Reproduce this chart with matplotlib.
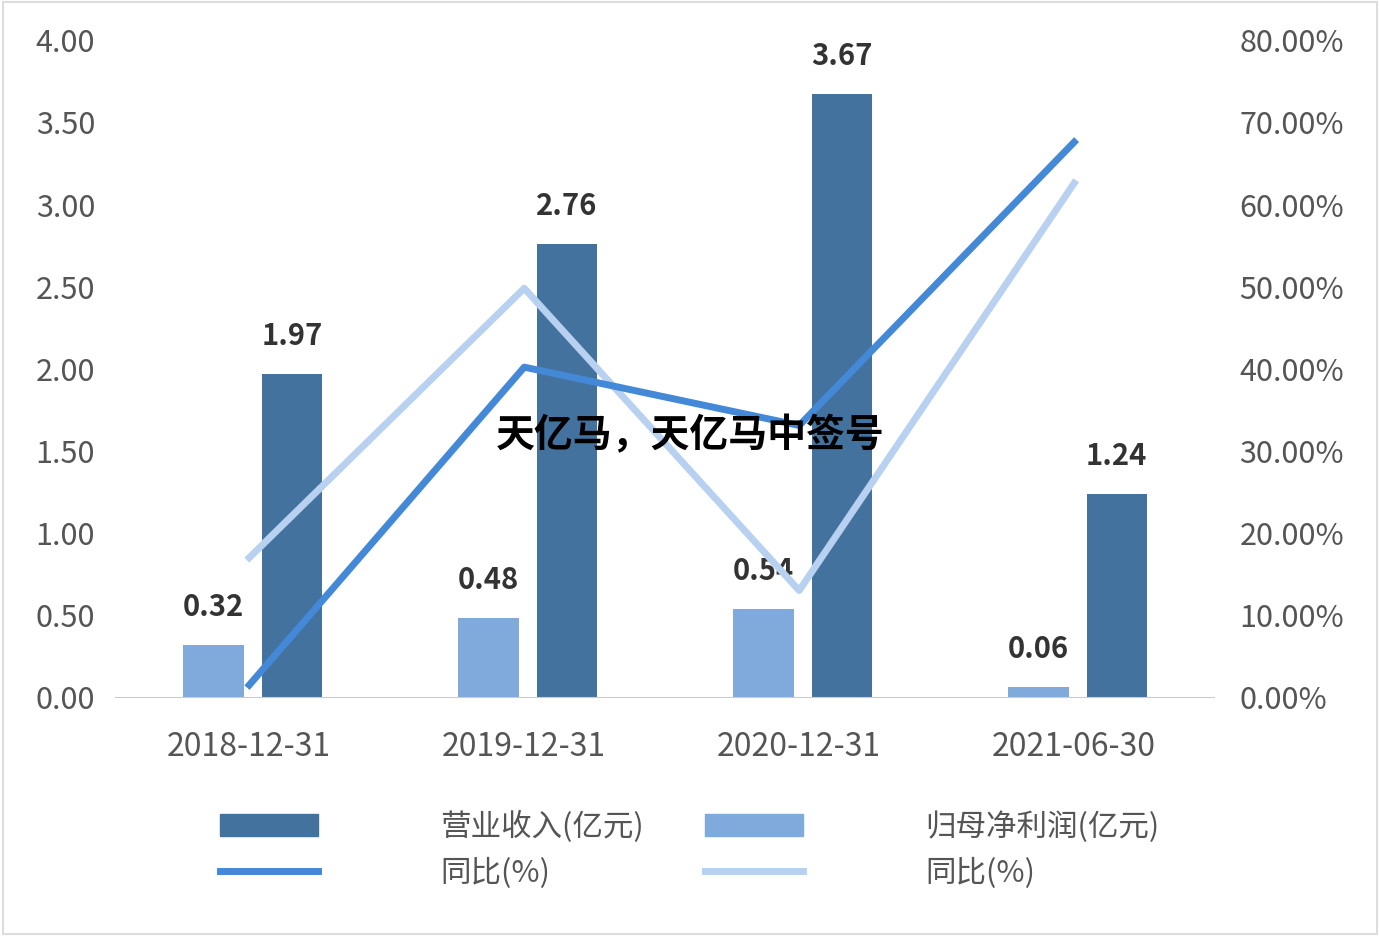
import matplotlib
matplotlib.use("Agg")
import matplotlib.pyplot as plt
from matplotlib.lines import Line2D
from matplotlib.patches import Patch
import numpy as np

plt.rcParams["font.family"] = ["Noto Sans CJK SC", "DejaVu Sans"]

categories = ["2018-12-31", "2019-12-31", "2020-12-31", "2021-06-30"]
revenue = [1.97, 2.76, 3.67, 1.24]
net_profit = [0.32, 0.48, 0.54, 0.06]
revenue_yoy = [1.5, 40.2, 33.1, 67.6]
profit_yoy = [17.0, 49.8, 13.0, 62.6]
left_ticks = [0, 0.5, 1.0, 1.5, 2.0, 2.5, 3.0, 3.5, 4.0]
right_ticks = [0, 10, 20, 30, 40, 50, 60, 70, 80]

c_dark = "#44729f"
c_light = "#7faadb"
c_line1 = "#4488d8"
c_line2 = "#b8d1f0"
c_text = "#555555"

fig = plt.figure(figsize=(13.8, 9.36), dpi=100)
ax = fig.add_axes([0.083, 0.255, 0.797, 0.702])
x = np.arange(len(categories))
w = 0.22
ax.bar(x - 0.13, net_profit, w, color=c_light, zorder=2)
ax.bar(x + 0.155, revenue, w, color=c_dark, zorder=2)
for i in range(len(x)):
    ax.text(x[i] - 0.13, net_profit[i] + 0.14, f"{net_profit[i]:.2f}", ha="center", va="bottom",
            fontsize=21, fontweight="bold", color="#333333", zorder=6)
    ax.text(x[i] + 0.155, revenue[i] + 0.14, f"{revenue[i]:.2f}", ha="center", va="bottom",
            fontsize=21, fontweight="bold", color="#333333", zorder=6)
ax.set_xlim(-0.49, 3.51)
ax.set_ylim(0, 4)
ax.set_yticks(left_ticks)
ax.set_yticklabels([f"{t:.2f}" for t in left_ticks], fontsize=22, color=c_text)
ax.set_xticks(x)
ax.set_xticklabels(categories, fontsize=23, color=c_text)
for s in ["top", "right", "left"]:
    ax.spines[s].set_visible(False)
ax.spines["bottom"].set_color("#cccccc")
ax.tick_params(axis="y", length=0, pad=14)
ax.tick_params(axis="x", length=0, pad=24)

ax2 = ax.twinx()
ax2.plot(x, profit_yoy, color=c_line2, lw=5, zorder=3)
ax2.plot(x, revenue_yoy, color=c_line1, lw=5, zorder=4)
ax2.set_ylim(0, 80)
ax2.set_yticks(right_ticks)
ax2.set_yticklabels([f"{t:.2f}%" for t in right_ticks], fontsize=22, color=c_text)
for s in ["top", "right", "left", "bottom"]:
    ax2.spines[s].set_visible(False)
ax2.tick_params(length=0, pad=18)

handles = [Patch(color=c_dark), Line2D([], [], color=c_line1, lw=5),
           Patch(color=c_light), Line2D([], [], color=c_line2, lw=5)]
labels = ["营业收入(亿元)", "同比(%)", "归母净利润(亿元)", "同比(%)"]
fig.legend(handles, labels, loc="center", bbox_to_anchor=(0.5, 0.092), ncol=2, frameon=False,
           fontsize=22, handlelength=3.2, columnspacing=2, labelcolor=c_text, handletextpad=4)

fig.text(0.5, 0.535, "天亿马，天亿马中签号", ha="center", va="center", fontsize=28,
         fontweight="bold", color="black")
fig.patches.append(plt.Rectangle((0.002, 0.002), 0.996, 0.996, transform=fig.transFigure,
                                 fill=False, edgecolor="#dddddd", lw=1.5))
fig.savefig("out.png", dpi=100)
